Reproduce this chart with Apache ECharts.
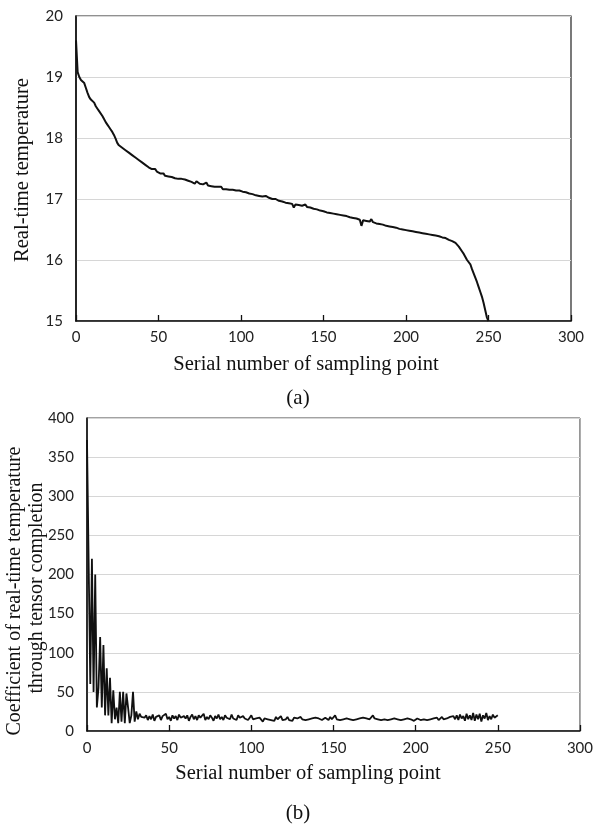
<!DOCTYPE html>
<html>
<head>
<meta charset="utf-8">
<script src="https://cdn.jsdelivr.net/npm/echarts@6/dist/echarts.min.js"></script>
<style>
html,body{margin:0;padding:0;background:#fff;}
#c{width:596px;height:826px;}
</style>
</head>
<body>
<div id="c"></div>
<script>
// ---- Data ----
var xTicksA = [0, 50, 100, 150, 200, 250, 300];
var yTicksA = [15, 16, 17, 18, 19, 20];
var yTicksB = [0, 50, 100, 150, 200, 250, 300, 350, 400];

// (a) Real-time temperature, sample 0..250
var tempValues = [
19.60,19.08,19.00,18.95,18.93,18.90,18.82,18.74,18.67,18.63,
18.62,18.58,18.52,18.48,18.44,18.41,18.36,18.31,18.26,18.22,
18.18,18.14,18.10,18.05,17.99,17.92,17.88,17.86,17.84,17.82,
17.80,17.78,17.76,17.74,17.72,17.70,17.68,17.66,17.64,17.62,
17.60,17.58,17.56,17.53,17.52,17.50,17.49,17.47,17.49,17.45,
17.43,17.42,17.41,17.42,17.38,17.37,17.37,17.35,17.36,17.35,
17.34,17.35,17.33,17.32,17.33,17.31,17.32,17.30,17.30,17.29,
17.28,17.27,17.25,17.29,17.26,17.25,17.24,17.24,17.23,17.27,
17.22,17.22,17.21,17.21,17.20,17.20,17.20,17.19,17.20,17.16,
17.17,17.16,17.19,17.15,17.15,17.15,17.14,17.14,17.13,17.14,
17.13,17.12,17.11,17.11,17.10,17.09,17.08,17.08,17.07,17.06,
17.06,17.05,17.05,17.04,17.03,17.05,17.02,17.02,17.01,17.00,
17.01,17.00,16.98,16.97,16.97,16.96,16.95,16.94,16.94,16.93,
16.92,16.92,16.86,16.91,16.94,16.90,16.89,16.89,16.88,16.91,
16.87,16.86,16.86,16.85,16.84,16.83,16.83,16.82,16.81,16.80,
16.80,16.79,16.78,16.79,16.77,16.77,16.76,16.76,16.75,16.76,
16.74,16.74,16.73,16.72,16.72,16.71,16.70,16.70,16.69,16.68,
16.68,16.67,16.66,16.56,16.65,16.65,16.64,16.64,16.63,16.67,
16.62,16.61,16.60,16.60,16.59,16.58,16.58,16.57,16.56,16.56,
16.55,16.54,16.54,16.53,16.53,16.52,16.51,16.51,16.50,16.50,
16.49,16.48,16.48,16.51,16.47,16.46,16.46,16.45,16.45,16.44,
16.44,16.43,16.43,16.42,16.42,16.41,16.41,16.40,16.40,16.39,
16.39,16.38,16.37,16.37,16.36,16.35,16.33,16.34,16.31,16.32,
16.28,16.25,16.22,16.19,16.14,16.10,16.05,16.00,15.97,15.93,
15.85,15.78,15.71,15.64,15.56,15.48,15.40,15.30,15.18,15.06,
15.00
];

// (b) Coefficient through tensor completion, sample 0..250
var coefValues = [
372,370,60,220,50,200,30,55,120,30,
110,20,80,20,68,10,52,15,30,10,
50,12,50,10,48,30,10,20,50,12,
25,15,22,18,20,
17,20,14,19,15,21,13,18,16,20,14,19,17,22,15,18,13,20,16,19,14,21,17,15,19,
16,20,13,18,21,15,19,14,20,17,16,22,14,18,15,20,17,13,19,16,21,15,18,14,20,
17,19,15,21,16,18,14,20,17,15,19,16,18,14,17,20,15,13,16,14,17,15,12,16,14,
15,17,14,16,13,18,15,17,19,14,16,15,18,14,16,13,17,15,16,14,18,15,17,14,16,
15,13,16,14,17,15,16,18,14,15,17,16,14,18,15,16,20,15,17,14,16,15,13,16,14,
15,17,14,16,15,13,16,14,17,15,16,18,15,17,20,16,18,15,17,14,16,15,17,14,16,
15,13,16,14,15,17,14,16,15,13,16,14,15,17,13,14,16,15,14,16,15,17,14,16,15,
14,16,15,17,14,16,18,15,17,16,14,18,16,19,15,20,14,21,16,19,13,22,15,20,14,
23,13,21,15,22,12,20,16,23,14,19,15,21,17,18,20
];

function pairs(vals){
  var out = [];
  for (var i = 0; i < vals.length; i++) out.push([i, vals[i]]);
  return out;
}

var chart = echarts.init(document.getElementById('c'), null, {renderer:'canvas'});

var tickFont = {fontFamily:'Lato', fontSize:15, color:'#222'};

function xAxisCfg(gridIndex, margin){
  return {
    type:'value', gridIndex:gridIndex, min:xTicksA[0], max:xTicksA[xTicksA.length-1], interval:50,
    axisLine:{show:true, onZero:false, lineStyle:{color:'#111', width:1.6}},
    axisTick:{show:true, inside:true, length:6, lineStyle:{color:'#111', width:1.3}},
    axisLabel:Object.assign({margin:margin}, tickFont),
    splitLine:{show:false}
  };
}

var option = {
  animation:false,
  backgroundColor:'#fff',
  grid:[
    {left:76, top:16, width:495, height:305, show:true, borderColor:'#222', borderWidth:1.2, containLabel:false},
    {left:87, top:418, width:495, height:313, show:true, borderColor:'#444', borderWidth:1, containLabel:false}
  ],
  xAxis:[ xAxisCfg(0, 9), xAxisCfg(1, 10) ],
  yAxis:[
    {type:'value', gridIndex:0, min:yTicksA[0], max:yTicksA[yTicksA.length-1], interval:1,
     axisLine:{show:true, lineStyle:{color:'#111', width:1.6}},
     axisTick:{show:false},
     axisLabel:Object.assign({margin:13}, tickFont),
     splitLine:{show:true, lineStyle:{color:'#d6d6d6', width:1}}},
    {type:'value', gridIndex:1, min:yTicksB[0], max:yTicksB[yTicksB.length-1], interval:50,
     axisLine:{show:true, lineStyle:{color:'#111', width:1.6}},
     axisTick:{show:false},
     axisLabel:Object.assign({margin:13}, tickFont),
     splitLine:{show:true, lineStyle:{color:'#d6d6d6', width:1}}}
  ],
  series:[
    {type:'line', xAxisIndex:0, yAxisIndex:0, data:pairs(tempValues), showSymbol:false,
     lineStyle:{color:'#111', width:2}},
    {type:'line', xAxisIndex:1, yAxisIndex:1, data:pairs(coefValues), showSymbol:false,
     lineStyle:{color:'#111', width:1.8}}
  ],
  graphic:[
    {type:'text', x:306, y:365, style:{text:'Serial number of sampling point', font:'20.5px "Liberation Serif"', fill:'#111', textAlign:'center', textVerticalAlign:'middle'}},
    {type:'text', x:23, y:170, rotation:Math.PI/2, style:{text:'Real-time temperature', font:'20.5px "Liberation Serif"', fill:'#111', textAlign:'center', textVerticalAlign:'middle'}},
    {type:'text', x:298, y:398, style:{text:'(a)', font:'21px "Liberation Serif"', fill:'#111', textAlign:'center', textVerticalAlign:'middle'}},
    {type:'text', x:308, y:774, style:{text:'Serial number of sampling point', font:'20.5px "Liberation Serif"', fill:'#111', textAlign:'center', textVerticalAlign:'middle'}},
    {type:'text', x:15, y:591, rotation:Math.PI/2, style:{text:'Coefficient of real-time temperature', font:'20px "Liberation Serif"', fill:'#111', textAlign:'center', textVerticalAlign:'middle'}},
    {type:'text', x:37, y:588, rotation:Math.PI/2, style:{text:'through tensor completion', font:'20px "Liberation Serif"', fill:'#111', textAlign:'center', textVerticalAlign:'middle'}},
    {type:'text', x:298, y:813, style:{text:'(b)', font:'21px "Liberation Serif"', fill:'#111', textAlign:'center', textVerticalAlign:'middle'}}
  ]
};
chart.setOption(option);
</script>
</body>
</html>
